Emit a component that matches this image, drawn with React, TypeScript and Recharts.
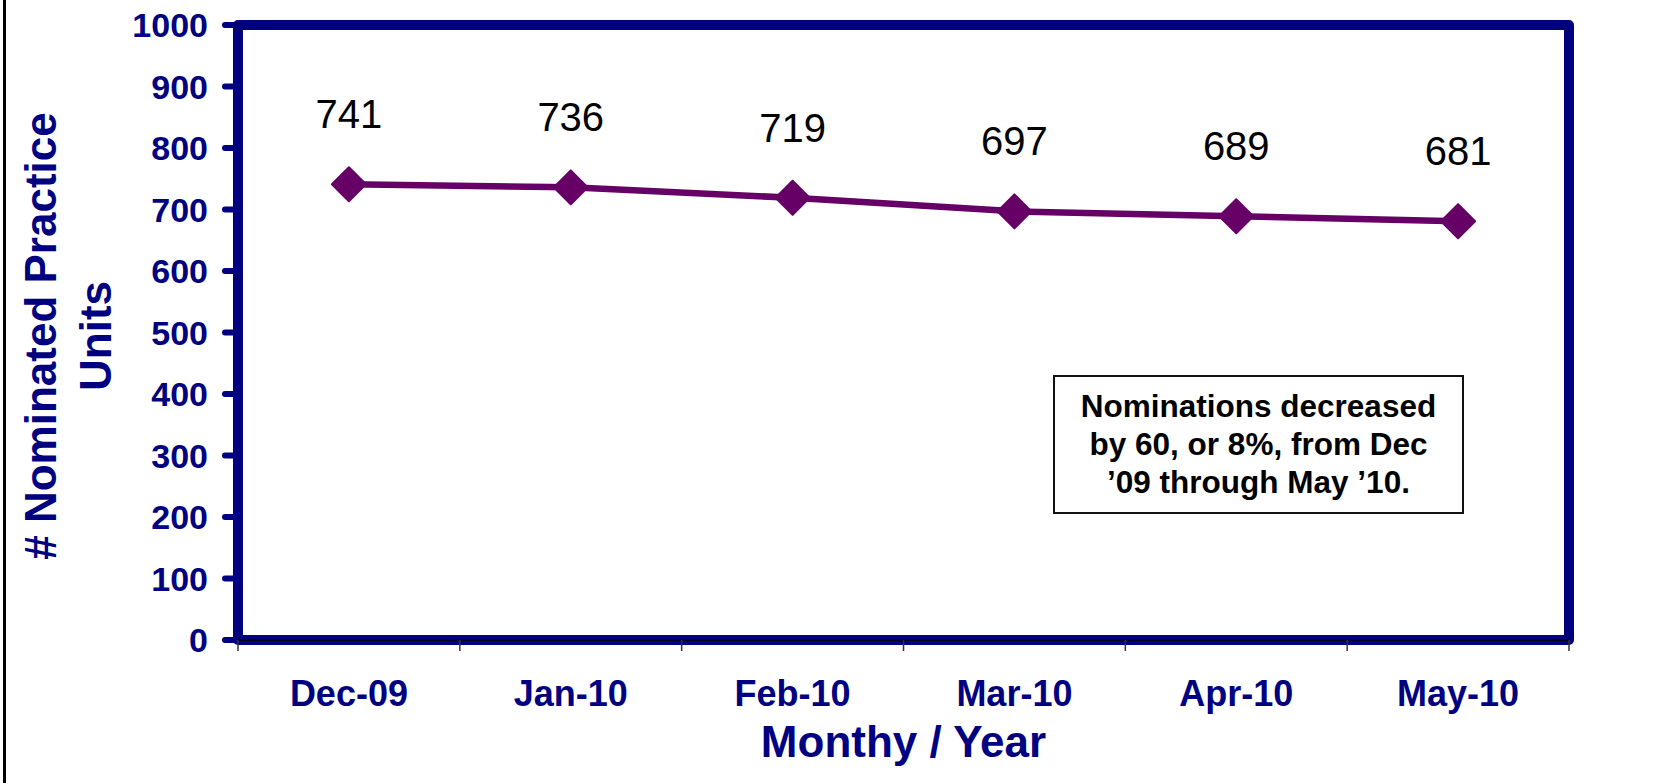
import React from 'react';
import { LineChart, Line, XAxis, YAxis, ReferenceArea, LabelList, Label } from 'recharts';

const months = ['Dec-09', 'Jan-10', 'Feb-10', 'Mar-10', 'Apr-10', 'May-10'];
const nominations = [741, 736, 719, 697, 689, 681];
const yTicks = [0, 100, 200, 300, 400, 500, 600, 700, 800, 900, 1000];
const yTitleLines = ['# Nominated Practice', 'Units'];
const xTitle = 'Monthy / Year';
const noteLines = ['Nominations decreased', 'by 60, or 8%, from Dec', '\u201909 through May \u201910.'];

const data = months.map((m, i) => ({ month: m, value: nominations[i] }));

const NAVY = '#000080';
const PURPLE = '#660066';
const FONT = '"Liberation Sans", Arial, Helvetica, sans-serif';

const Diamond = (props: any) => {
  const { cx, cy, index } = props;
  if (cx == null || cy == null) return null;
  const r = 17;
  return (
    <polygon
      key={`d-${index}`}
      points={`${cx},${cy - r} ${cx + r},${cy} ${cx},${cy + r} ${cx - r},${cy}`}
      fill={PURPLE}
      stroke={PURPLE}
      strokeWidth={2}
      strokeLinejoin="round"
    />
  );
};

const CatTick = (props: any) => {
  const { x, y, payload, index, visibleTicksCount } = props;
  const off = payload && payload.offset != null ? payload.offset : 0;
  const last = index === (visibleTicksCount ?? months.length) - 1;
  return (
    <g>
      <line x1={x - off} y1={y} x2={x + off} y2={y} stroke="#000" strokeWidth={1.5} />
      <line x1={x - off} y1={y} x2={x - off} y2={y + 11} stroke="#333" strokeWidth={1.5} />
      {last && <line x1={x + off} y1={y} x2={x + off} y2={y + 11} stroke="#333" strokeWidth={1.5} />}
      <text
        x={x}
        y={y + 40}
        dy="0.71em"
        textAnchor="middle"
        fill={NAVY}
        fontSize={36}
        fontWeight="bold"
        fontFamily={FONT}
      >
        {payload.value}
      </text>
    </g>
  );
};

const YTitle = () => (
  <g>
    {yTitleLines.map((t, i) => {
      const x = 56 + i * 55;
      const y = 336;
      return (
        <text
          key={t}
          x={x}
          y={y}
          transform={`rotate(-90 ${x} ${y})`}
          textAnchor="middle"
          fill={NAVY}
          fontFamily={FONT}
          fontWeight="bold"
          fontSize={44}
        >
          {t}
        </text>
      );
    })}
  </g>
);

export default function App() {
  return (
    <div style={{ position: 'absolute', left: 0, top: 0, width: 1662, height: 783, background: '#fff', overflow: 'hidden' }}>
      <div style={{ position: 'absolute', left: 3, top: 0, width: 3, height: 783, background: '#000' }} />
      <LineChart
        width={1662}
        height={783}
        data={data}
        margin={{ top: 25, right: 93, bottom: 0, left: 0 }}
      >
        <XAxis
          xAxisId="cat"
          dataKey="month"
          scale="band"
          height={143}
          tickSize={0}
          tickMargin={0}
          axisLine={false}
          tickLine={false}
          interval={0}
          tick={<CatTick />}
        >
          <Label
            value={xTitle}
            position="insideBottom"
            offset={26}
            fill={NAVY}
            fontSize={44}
            fontWeight="bold"
            fontFamily={FONT}
          />
        </XAxis>
        <YAxis
          yAxisId="y"
          width={238}
          domain={[0, 1000]}
          ticks={yTicks}
          interval={0}
          axisLine={false}
          tickSize={13}
          tickMargin={17}
          tickLine={{ stroke: NAVY, strokeWidth: 6, strokeLinecap: 'round' }}
          tick={{ fill: NAVY, fontSize: 34, fontWeight: 'bold', fontFamily: FONT }}
        >
          <Label content={<YTitle />} />
        </YAxis>
        <ReferenceArea
          xAxisId="cat"
          yAxisId="y"
          y1={0}
          y2={1000}
          fill="none"
          fillOpacity={0}
          stroke={NAVY}
          strokeWidth={10}
          strokeLinejoin="round"
        />
        <Line
          xAxisId="cat"
          yAxisId="y"
          type="linear"
          dataKey="value"
          stroke={PURPLE}
          strokeWidth={6.5}
          dot={<Diamond />}
          activeDot={false}
          isAnimationActive={false}
        >
          <LabelList
            dataKey="value"
            position="top"
            offset={56}
            fill="#000"
            fontSize={40}
            fontFamily={FONT}
          />
        </Line>
      </LineChart>
      <div
        style={{
          position: 'absolute',
          left: 1053,
          top: 375,
          width: 411,
          height: 139,
          boxSizing: 'border-box',
          border: '2px solid #111',
          background: '#fff',
          paddingTop: 10,
          textAlign: 'center',
          fontFamily: FONT,
          fontWeight: 'bold',
          fontSize: 31.5,
          lineHeight: '38px',
          color: '#000',
        }}
      >
        {noteLines.map((l) => (
          <div key={l} style={{ whiteSpace: 'nowrap' }}>{l}</div>
        ))}
      </div>
    </div>
  );
}
